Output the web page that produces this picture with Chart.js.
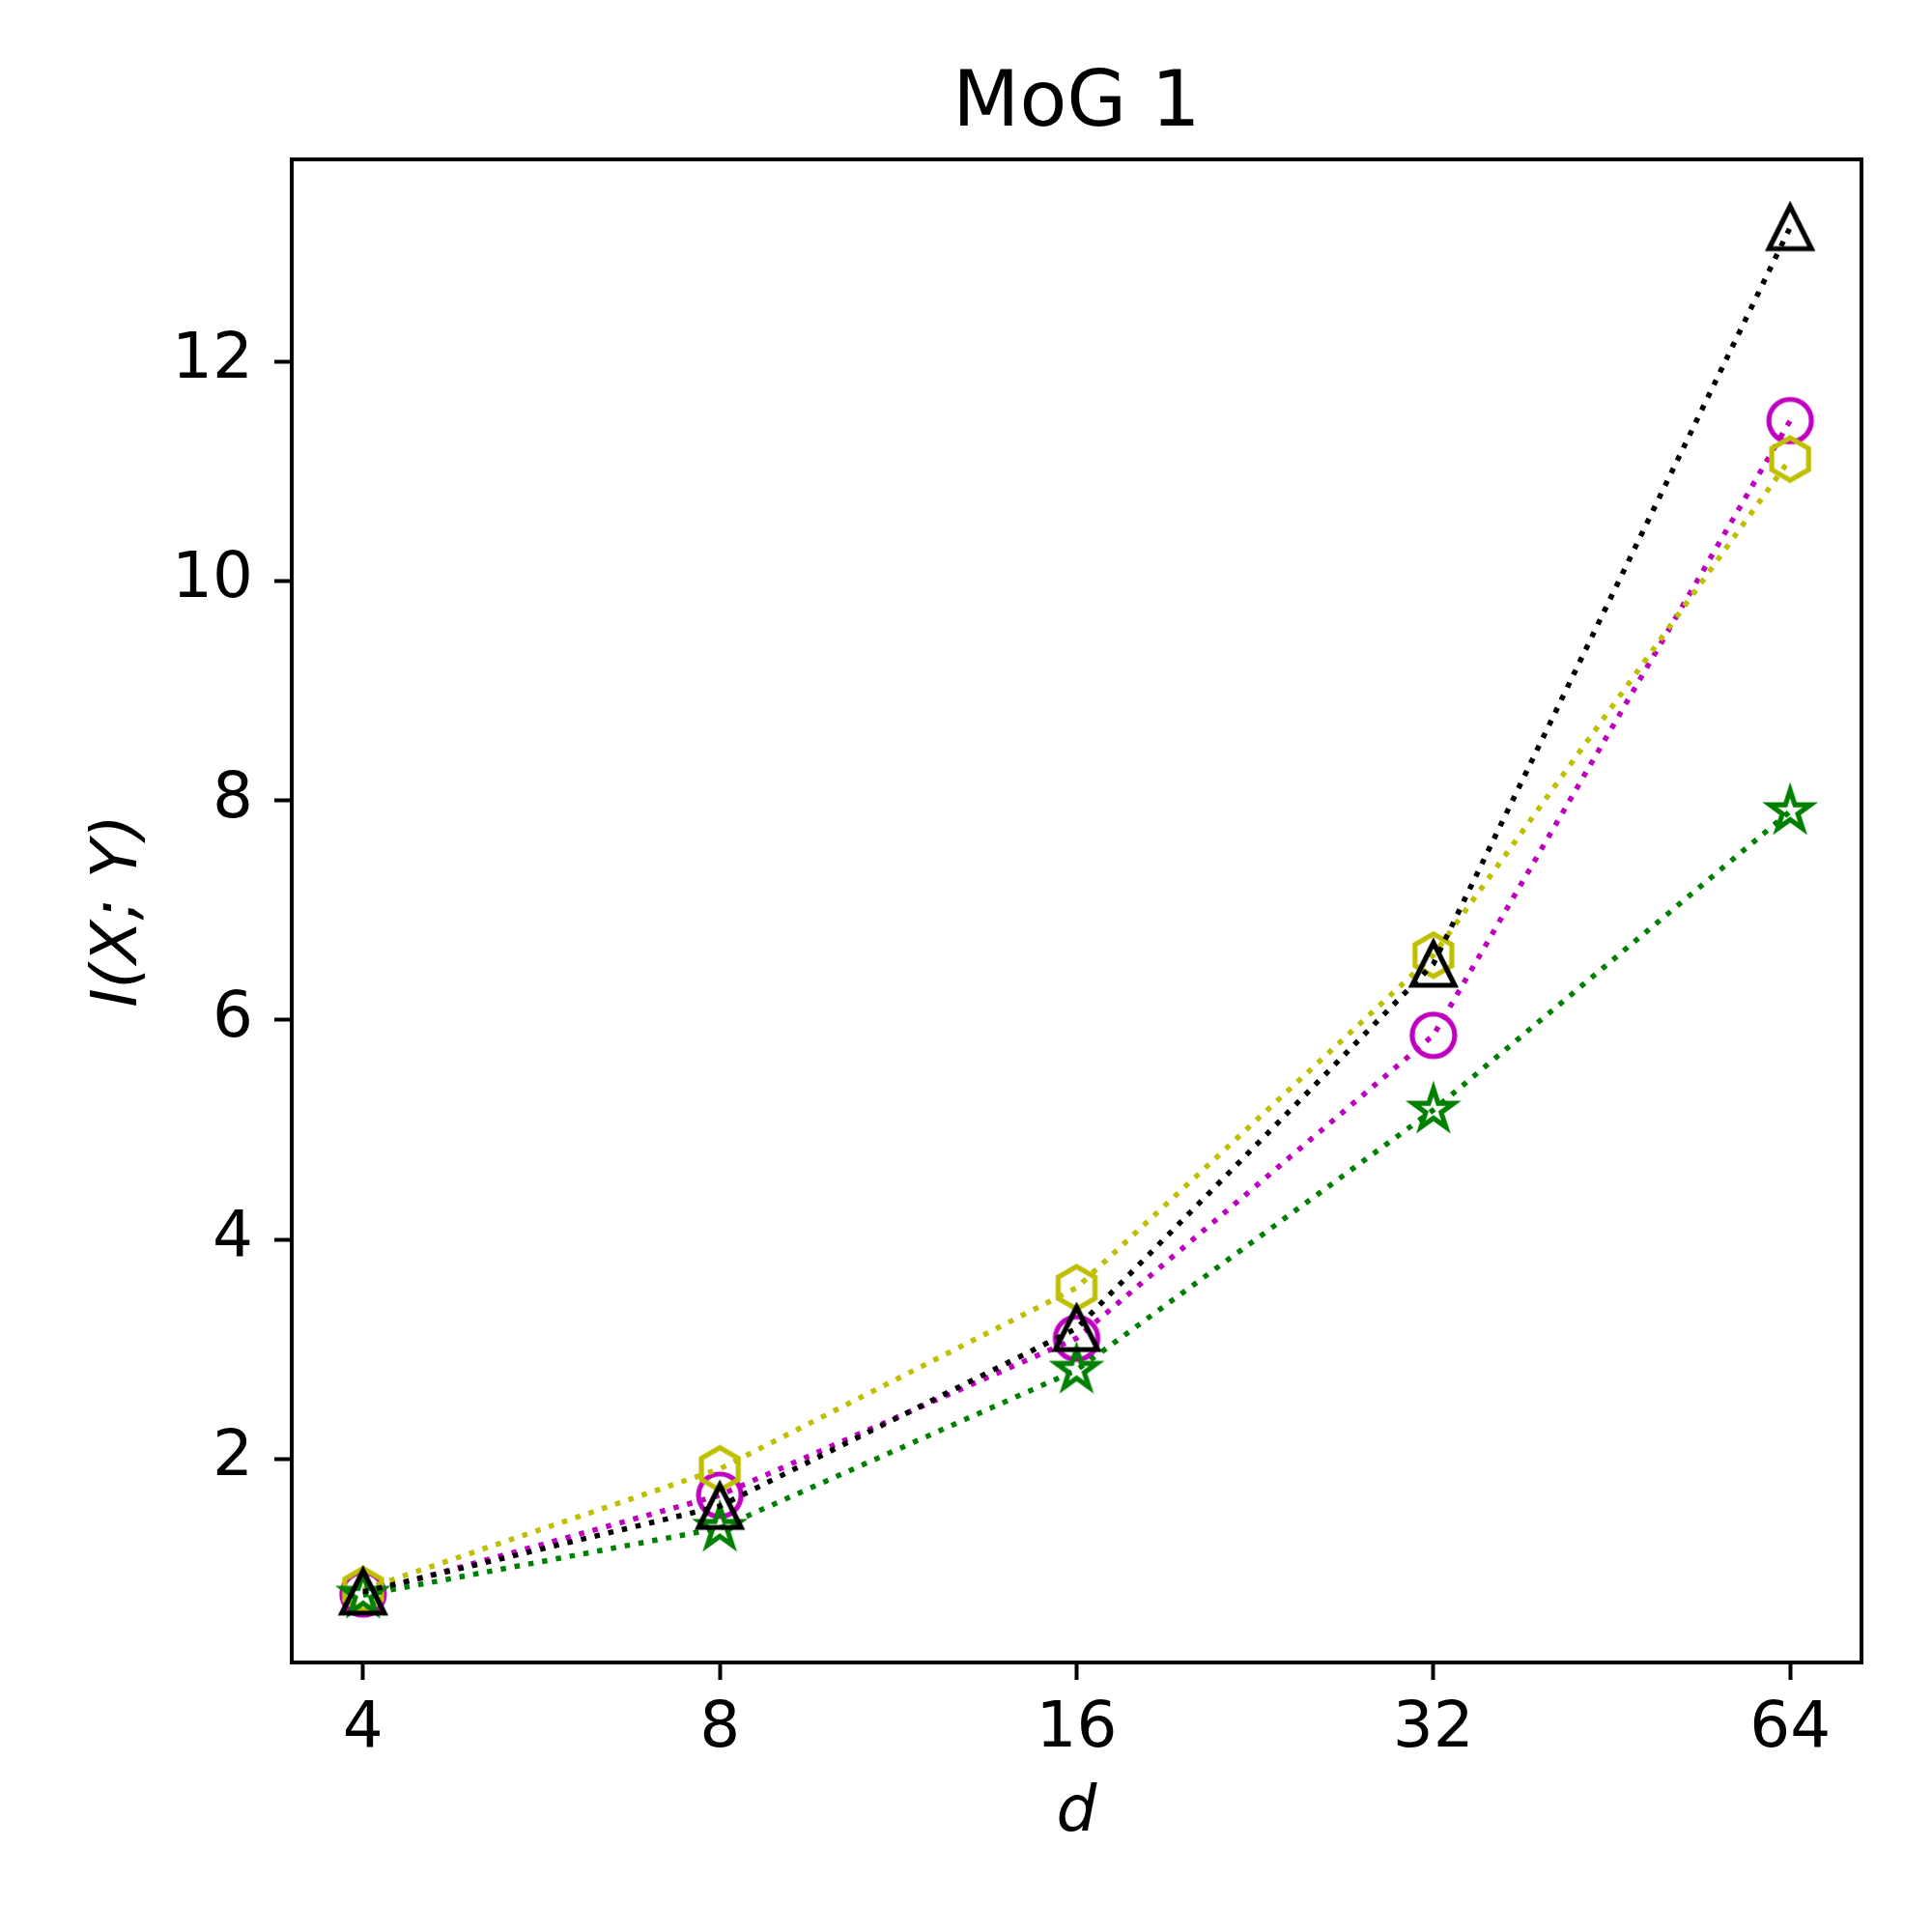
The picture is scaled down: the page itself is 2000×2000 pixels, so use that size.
<!DOCTYPE html>
<html><head><meta charset="utf-8">
<script src="https://cdn.jsdelivr.net/npm/chart.js@4"></script>
<style>html,body{margin:0;padding:0;background:#fff}canvas{display:block}</style>
</head><body>
<canvas id="c" width="2000" height="2000"></canvas>
<script>
// ---- data ----
const dims = [4, 8, 16, 32, 64];
const yTicks = [2, 4, 6, 8, 10, 12];
const triangleSeries = [0.79, 1.57, 3.19, 6.51, 13.22];
const circleSeries   = [0.77, 1.67, 3.10, 5.86, 11.46];
const hexagonSeries  = [0.81, 1.91, 3.56, 6.59, 11.11];
const starSeries     = [0.76, 1.37, 2.81, 5.18, 7.90];

const FONT = 'DejaVu Sans';

function marker(shape, color) {
  const s = 64, r = 22;
  const c = document.createElement('canvas');
  c.width = s; c.height = s;
  const g = c.getContext('2d');
  g.translate(s / 2, s / 2);
  g.strokeStyle = color;
  g.lineWidth = 5.2;
  g.lineJoin = 'miter';
  g.beginPath();
  if (shape === 'circle') {
    g.arc(0, 0, r, 0, Math.PI * 2);
  } else if (shape === 'triangle') {
    g.moveTo(0, -r); g.lineTo(-r, r); g.lineTo(r, r); g.closePath();
  } else if (shape === 'hexagon') {
    for (let k = 0; k < 6; k++) {
      const a = -Math.PI / 2 + k * Math.PI / 3;
      const px = r * Math.cos(a), py = r * Math.sin(a);
      k ? g.lineTo(px, py) : g.moveTo(px, py);
    }
    g.closePath();
  } else if (shape === 'star') {
    const inner = r * 0.381966;
    for (let k = 0; k < 10; k++) {
      const a = -Math.PI / 2 + k * Math.PI / 5;
      const rr = k % 2 ? inner : r;
      const px = rr * Math.cos(a), py = rr * Math.sin(a);
      k ? g.lineTo(px, py) : g.moveTo(px, py);
    }
    g.closePath();
  }
  g.stroke();
  return c;
}

function series(values, color, shape) {
  return {
    data: dims.map((d, i) => ({ x: d, y: values[i] })),
    borderColor: color,
    backgroundColor: color,
    borderWidth: 5.5,
    borderDash: [5.5, 9],
    borderCapStyle: 'butt',
    pointStyle: marker(shape, color),
    pointRadius: 22,
    pointHoverRadius: 22,
    fill: false,
    tension: 0,
    clip: false
  };
}

const frame = {
  id: 'frame',
  afterDraw(chart) {
    const a = chart.chartArea, ctx = chart.ctx;
    ctx.save();
    ctx.strokeStyle = '#000';
    ctx.lineWidth = 4;
    ctx.strokeRect(a.left, a.top, a.right - a.left, a.bottom - a.top);
    ctx.restore();
  }
};

Chart.defaults.color = '#000';
Chart.defaults.font.family = FONT;

new Chart(document.getElementById('c'), {
  type: 'line',
  data: {
    datasets: [
      series(triangleSeries, '#000000', 'triangle'),
      series(starSeries, '#008000', 'star'),
      series(hexagonSeries, '#bfbf00', 'hexagon'),
      series(circleSeries, '#bf00bf', 'circle')
    ]
  },
  options: {
    responsive: false,
    devicePixelRatio: 1,
    animation: false,
    layout: { padding: { top: 0, right: 73, bottom: 0, left: 0 } },
    plugins: {
      legend: { display: false },
      tooltip: { enabled: false },
      title: {
        display: true,
        text: 'MoG 1',
        fullSize: false,
        color: '#000',
        font: { family: FONT, size: 80, weight: 'normal' },
        padding: { top: 61, bottom: 8 }
      }
    },
    scales: {
      x: {
        type: 'logarithmic',
        min: 4 / Math.pow(2, 0.2),
        max: 64 * Math.pow(2, 0.2),
        afterBuildTicks: s => { s.ticks = dims.map(v => ({ value: v })); },
        afterFit: s => { s.height = 279; },
        ticks: {
          callback: v => String(v),
          font: { family: FONT, size: 66 },
          color: '#000',
          padding: 12,
          maxRotation: 0,
          autoSkip: false
        },
        grid: { drawOnChartArea: false, drawTicks: true, tickLength: 18, tickWidth: 4, tickColor: '#000' },
        border: { display: false },
        title: {
          display: true,
          text: 'd',
          color: '#000',
          font: { family: FONT, size: 66, style: 'italic' },
          padding: { top: 0, bottom: 83 }
        }
      },
      y: {
        type: 'linear',
        min: 0.146,
        max: 13.84,
        afterBuildTicks: s => { s.ticks = yTicks.map(v => ({ value: v })); },
        afterFit: s => { s.width = 302; },
        ticks: {
          callback: v => String(v),
          font: { family: FONT, size: 66 },
          color: '#000',
          padding: 22
        },
        grid: { drawOnChartArea: false, drawTicks: true, tickLength: 18, tickWidth: 4, tickColor: '#000' },
        border: { display: false },
        title: {
          display: true,
          text: 'I(X; Y)',
          color: '#000',
          font: { family: FONT, size: 66, style: 'italic' },
          padding: { top: 84, bottom: 0 }
        }
      }
    }
  },
  plugins: [frame]
});
</script>
</body></html>
